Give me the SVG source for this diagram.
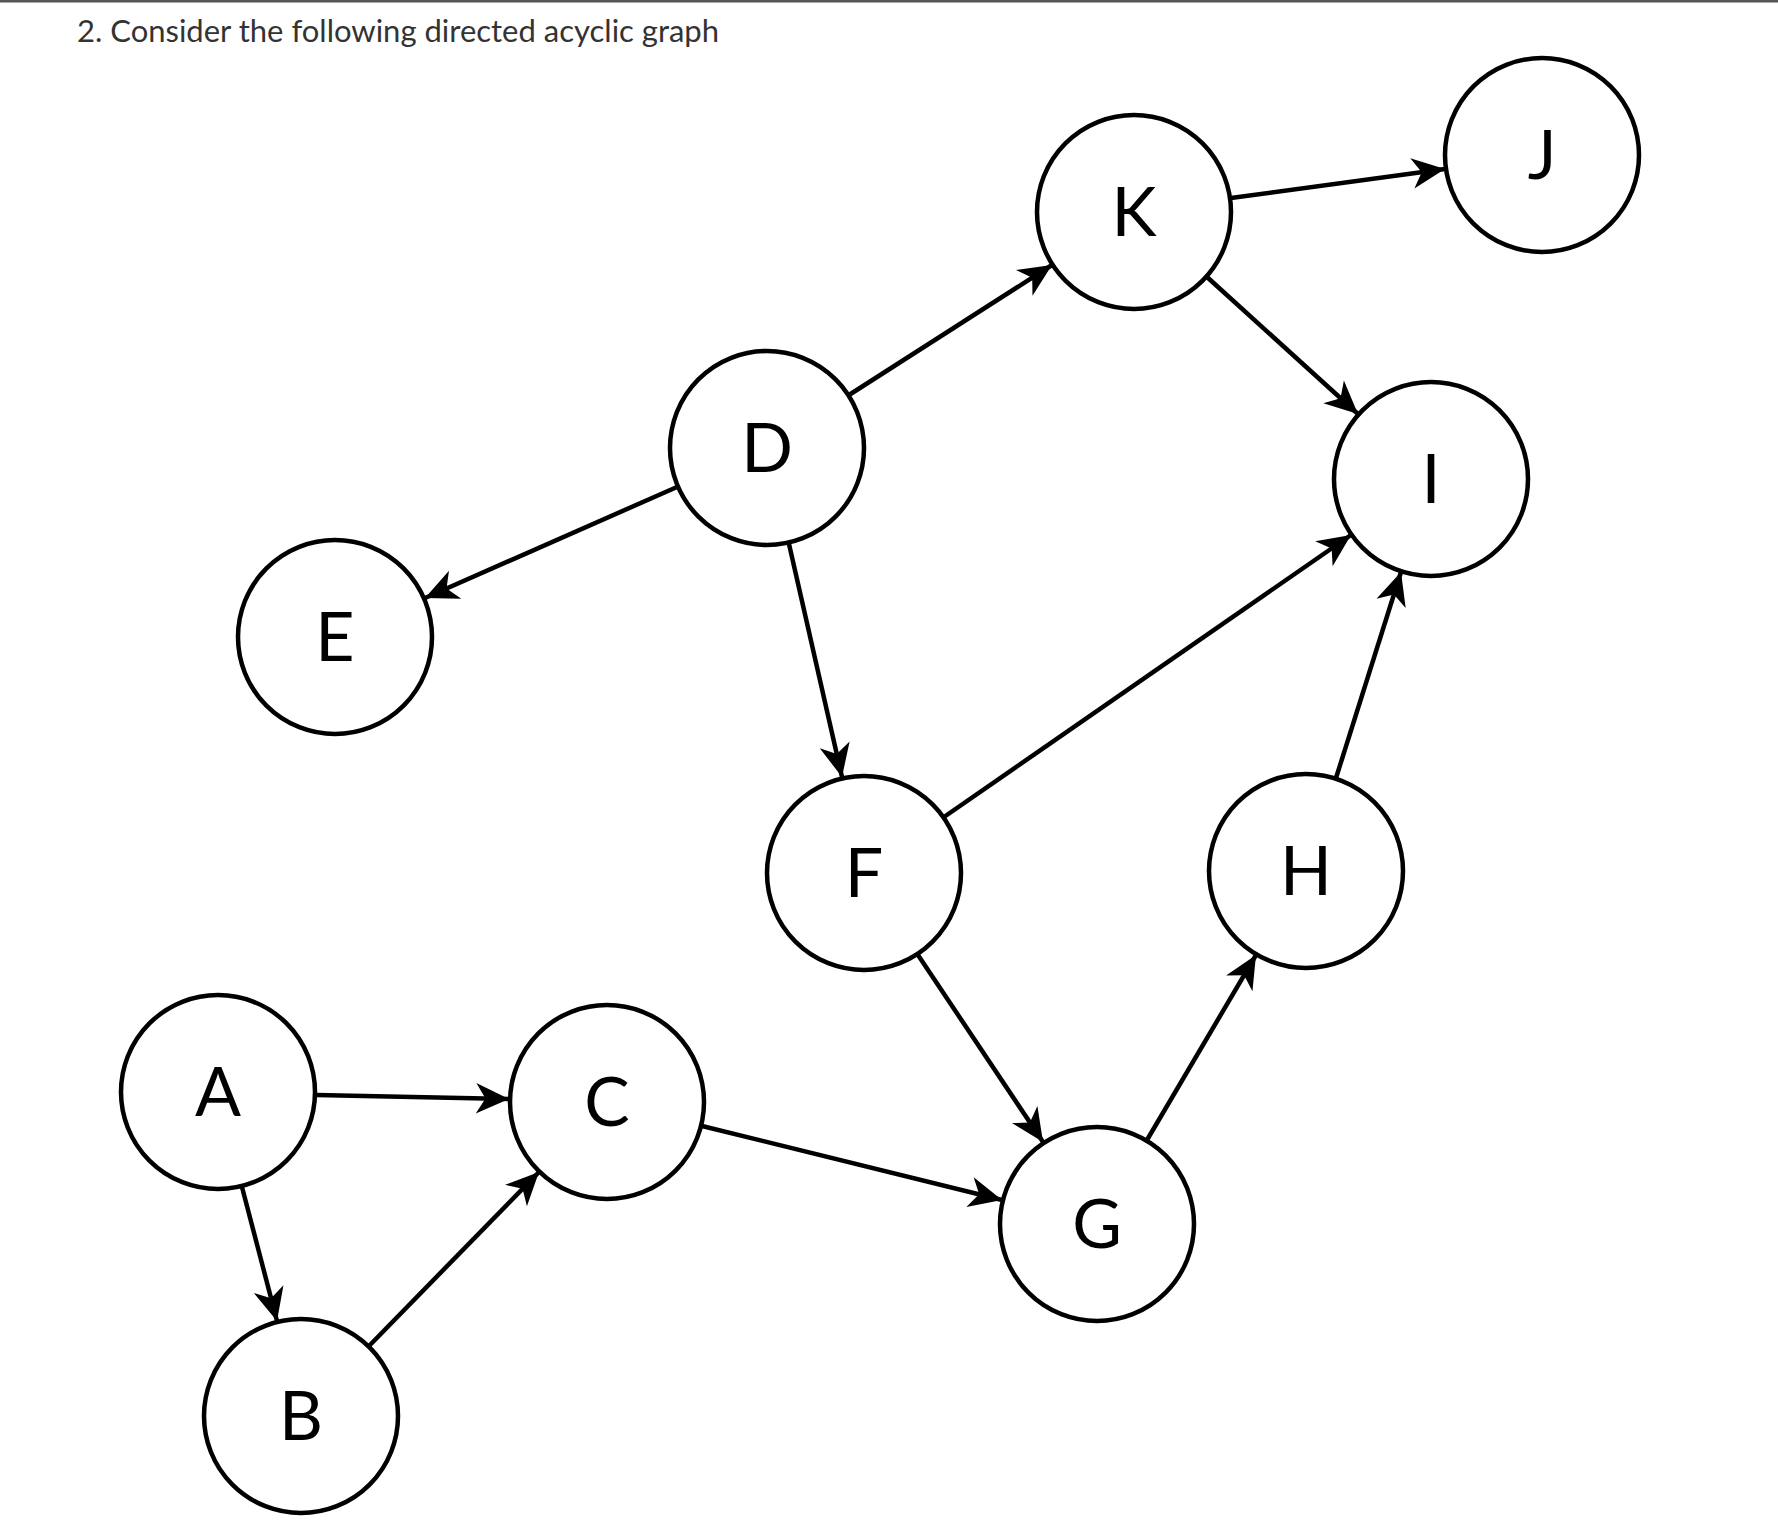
<svg xmlns="http://www.w3.org/2000/svg" width="1778" height="1522" viewBox="0 0 1778 1522">
<style>
.n circle{fill:#fff;stroke:#000;stroke-width:4.5}
.n text{font-family:Lato,"Liberation Sans",sans-serif;font-size:68px;text-anchor:middle;fill:#000}
.e line{stroke:#000;stroke-width:4.5;marker-end:url(#ah)}
</style>
<defs>
<marker id="ah" markerUnits="userSpaceOnUse" markerWidth="40" markerHeight="40" viewBox="-30 -15 34 30" refX="2" refY="0" orient="auto">
<path d="M2,0 L-26,-13 L-18,0 L-26,13 Z" fill="#000"/>
</marker>
</defs>
<rect width="1778" height="1522" fill="#fff"/>
<line x1="0" y1="1" x2="1778" y2="1" stroke="#555" stroke-width="3"/>
<text x="77" y="42" font-family="Lato,'Liberation Sans',sans-serif" font-size="31" fill="#333">2. Consider the following directed acyclic graph</text>
<g class="e">
<line x1="316" y1="1095" x2="509" y2="1099"/>
<line x1="242" y1="1187" x2="277" y2="1321"/>
<line x1="369" y1="1346" x2="539" y2="1172"/>
<line x1="702" y1="1126" x2="1002" y2="1200"/>
<line x1="849" y1="395" x2="1052" y2="265"/>
<line x1="677" y1="487" x2="425" y2="598"/>
<line x1="789" y1="544" x2="842" y2="777"/>
<line x1="944" y1="817" x2="1351" y2="535"/>
<line x1="918" y1="955" x2="1043" y2="1142"/>
<line x1="1147" y1="1140" x2="1256" y2="955"/>
<line x1="1336" y1="778" x2="1401" y2="572"/>
<line x1="1231" y1="198" x2="1445" y2="169"/>
<line x1="1207" y1="277" x2="1358" y2="414"/>
</g>
<g id="A" class="n"><circle cx="218" cy="1092" r="97"/><text x="218" y="1116">A</text></g>
<g id="B" class="n"><circle cx="301" cy="1416" r="97"/><text x="301" y="1440">B</text></g>
<g id="C" class="n"><circle cx="607" cy="1102" r="97"/><text x="607" y="1126">C</text></g>
<g id="D" class="n"><circle cx="767" cy="448" r="97"/><text x="767" y="472">D</text></g>
<g id="E" class="n"><circle cx="335" cy="637" r="97"/><text x="335" y="661">E</text></g>
<g id="F" class="n"><circle cx="864" cy="873" r="97"/><text x="864" y="897">F</text></g>
<g id="G" class="n"><circle cx="1097" cy="1224" r="97"/><text x="1097" y="1248">G</text></g>
<g id="H" class="n"><circle cx="1306" cy="871" r="97"/><text x="1306" y="895">H</text></g>
<g id="I" class="n"><circle cx="1431" cy="479" r="97"/><text x="1431" y="503">I</text></g>
<g id="J" class="n"><circle cx="1542" cy="155" r="97"/><text x="1542" y="179">J</text></g>
<g id="K" class="n"><circle cx="1134" cy="212" r="97"/><text x="1134" y="236">K</text></g>
</svg>
